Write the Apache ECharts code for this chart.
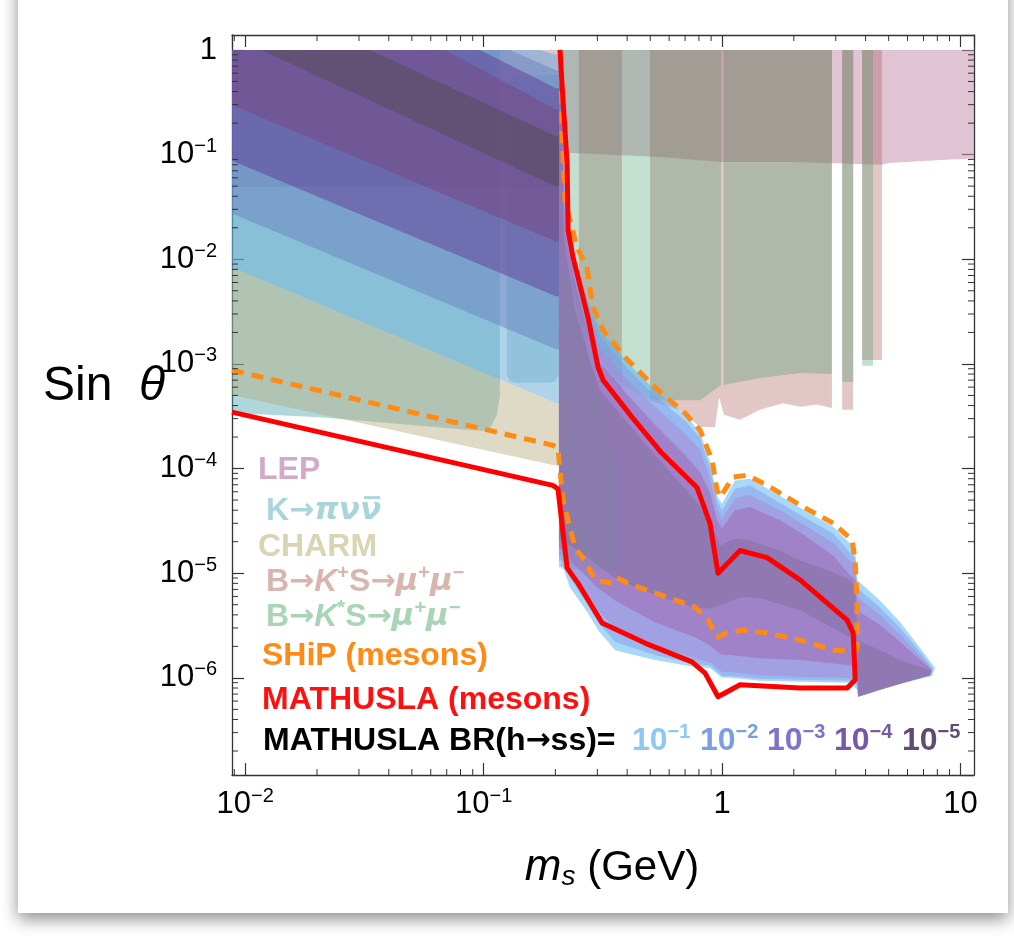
<!DOCTYPE html>
<html><head><meta charset="utf-8">
<script src="https://cdn.jsdelivr.net/npm/echarts@6/dist/echarts.min.js"></script>
<style>html,body{margin:0;padding:0;background:#ffffff;}#c{width:1014px;height:947px;}</style>
</head><body><div id="c"></div>
<script>
// ---------- axis ranges (GeV, sin theta) ----------
const xMin = 0.0088, xMax = 11.4;
const yMin = 1.18e-7, yMax = 1.39;
const minorMantissas = [2, 3, 4, 5, 6, 7, 8, 9];
const xDecades = [0.001, 0.01, 0.1, 1, 10];
const yDecades = [1e-8, 1e-7, 1e-6, 1e-5, 1e-4, 1e-3, 1e-2, 0.1, 1];

// ---------- excluded regions (polygons in [m_s, sin theta]) ----------
const lepRegion = [[0.0088,1],[11.4,1],[11.4,0.092],[9.0,0.09],[5.0,0.083],[4.7,0.08],[2.0,0.085],[1.0,0.085],[0.55,0.095],[0.213,0.105],[0.21,0.0495],[0.0088,0.0495]];
const kpinnRegionA = [[0.0088,1],[0.117,1],[0.117,5.0e-4],[0.1137,3.26e-4],[0.107,2.5e-4],[0.101,2.28e-4],[0.0876,2.34e-4],[0.0445,2.67e-4],[0.0206,3.1e-4],[0.0088,3.4e-4]];
const kpinnRegionB = [[0.125,0.45],[0.127,0.53],[0.132,0.577],[0.207,0.577],[0.207,8e-4],[0.2,6.8e-4],[0.19,6.6e-4],[0.135,6.6e-4],[0.128,7e-4],[0.125,8e-4]];
const kpinnRegionC = [[0.211,0.0075],[0.25,0.006],[0.271,0.00135],[0.363,1.0e-4],[0.363,1.06e-5],[0.211,1.1e-5]];
const charmRegion = [[0.0088,0.0084],[0.201,4.24e-4],[0.209,4.2e-4],[0.209,1.06e-4],[0.195,1.08e-4],[0.0088,5.06e-4]];
const bKplusRegions = [
  [[0.251,1],[0.380,1],[0.380,5.4e-4],[0.308,1.09e-3],[0.251,4.06e-3]],
  [[0.499,1],[2.89,1],[2.89,3.8e-4],[2.5,4.1e-4],[2.13,3.89e-4],[1.8,4.2e-4],[1.44,3.64e-4],[1.19,2.92e-4],[1.02,3.26e-4],[0.972,4.8e-4],[0.935,2.5e-4],[0.809,2.49e-4],[0.666,3.61e-4],[0.499,4.5e-4]],
  [[3.19,1],[3.55,1],[3.55,3.64e-4],[3.19,3.64e-4]],
  [[3.87,1],[4.69,1],[4.69,1.09e-3],[3.87,1.09e-3]]
];
const bKstarRegions = [
  [[0.213,1],[0.99,1],[0.99,6.3e-4],[0.809,4.5e-4],[0.666,4.5e-4],[0.499,4.6e-4],[0.380,6.3e-4],[0.308,1.09e-3],[0.254,2.62e-3],[0.213,0.0122]],
  [[1.015,1],[2.89,1],[2.89,8.0e-4],[2.13,8.2e-4],[1.44,7.35e-4],[1.015,6.3e-4]],
  [[3.19,1],[3.55,1],[3.55,6.7e-4],[3.19,6.7e-4]],
  [[3.87,1],[4.30,1],[4.30,9.6e-4],[3.87,9.6e-4]]
];

// ---------- MATHUSLA reach, BR(h->ss) = 1e-1 ... 1e-5 : light-mass part (m_s < 2 m_mu) ----------
const brLow1e1 = [[0.0088,1],[0.172,1],[0.201,0.9],[0.207,0.9],[0.207,4.24e-4],[0.201,4.24e-4],[0.0088,0.0084]];
const brLow1e2 = [[0.0088,1],[0.129,1],[0.201,0.64],[0.207,0.64],[0.207,0.00138],[0.201,0.00138],[0.0088,0.0273]];
const brLow1e3 = [[0.0088,1],[0.0965,1],[0.201,0.43],[0.207,0.43],[0.207,0.00443],[0.201,0.00443],[0.0088,0.0876]];
const brLow1e4 = [[0.0088,1],[0.0688,1],[0.201,0.27],[0.207,0.27],[0.207,0.0148],[0.201,0.0148],[0.0088,0.298]];
const brLow1e5 = [[0.0117,1],[0.0333,1],[0.201,0.15],[0.207,0.15],[0.207,0.0495],[0.201,0.0495]];
// ---------- heavy part (m_s > 2 m_mu) ----------
const brHigh1e1 = [[0.207,1],[0.211,1],[0.219,0.0364],[0.242,0.00936],[0.279,0.00364],[0.308,0.0021],[0.392,0.00109],[0.523,5.6e-4],[0.700,3.26e-4],[0.809,2.24e-4],[0.890,1.16e-4],[0.953,5.5e-5],[1.0,4.6e-5],[1.134,7.7e-5],[1.31,8.0e-5],[1.75,5.5e-5],[2.13,4.2e-5],[2.92,2.8e-5],[3.44,1.92e-5],[3.62,1.65e-5],[3.69,8.6e-6],[4.60,5.5e-6],[5.59,3.4e-6],[6.78,1.92e-6],[7.83,1.24e-6],[7.61,1.04e-6],[5.59,8.8e-7],[4.60,7.7e-7],[3.72,6.6e-7],[3.69,7.7e-7],[3.44,9.0e-7],[2.13,9.2e-7],[1.44,9.4e-7],[1.08,1.0e-6],[1.0,1.0e-6],[0.890,1.24e-6],[0.770,1.27e-6],[0.523,1.48e-6],[0.356,1.84e-6],[0.302,2.86e-6],[0.274,4.15e-6],[0.230,7.35e-6],[0.215,1.14e-5],[0.207,1.14e-5]];
const brHigh1e2 = [[0.207,1],[0.211,1],[0.222,0.0292],[0.244,0.00785],[0.279,0.00312],[0.308,0.00184],[0.392,9.6e-4],[0.523,4.95e-4],[0.700,2.86e-4],[0.809,1.96e-4],[0.890,1.0e-4],[0.953,4.95e-5],[1.0,4.0e-5],[1.134,6.4e-5],[1.31,6.9e-5],[1.75,4.7e-5],[2.13,3.6e-5],[2.92,2.4e-5],[3.44,1.58e-5],[3.62,1.38e-5],[3.69,7.2e-6],[4.60,4.7e-6],[5.59,3.0e-6],[6.78,1.76e-6],[7.61,1.24e-6],[7.46,1.06e-6],[5.59,8.8e-7],[4.60,7.7e-7],[3.72,6.6e-7],[3.69,8.4e-7],[3.44,9.4e-7],[2.13,9.6e-7],[1.44,9.8e-7],[1.08,1.04e-6],[1.0,1.04e-6],[0.890,1.32e-6],[0.770,1.35e-6],[0.523,1.65e-6],[0.356,2.2e-6],[0.302,3.4e-6],[0.274,4.95e-6],[0.230,9.0e-6],[0.215,1.32e-5],[0.207,1.32e-5]];
const brHigh1e3 = [[0.207,1],[0.211,1],[0.222,0.0234],[0.249,0.0063],[0.279,0.00262],[0.308,0.00141],[0.392,7.4e-4],[0.523,3.89e-4],[0.700,2.15e-4],[0.809,1.51e-4],[0.890,8.0e-5],[0.953,4.15e-5],[1.0,3.3e-5],[1.134,5.2e-5],[1.31,5.6e-5],[1.75,4.0e-5],[2.13,3.05e-5],[2.92,1.96e-5],[3.44,1.32e-5],[3.62,1.16e-5],[3.69,5.9e-6],[4.60,4.0e-6],[5.59,2.56e-6],[6.78,1.61e-6],[7.61,1.21e-6],[7.46,1.06e-6],[5.59,8.8e-7],[4.60,7.7e-7],[3.72,6.6e-7],[3.69,9.2e-7],[3.44,1.0e-6],[2.13,1.02e-6],[1.44,1.06e-6],[1.08,1.14e-6],[1.0,1.14e-6],[0.890,1.41e-6],[0.770,1.54e-6],[0.523,2.05e-6],[0.356,3.0e-6],[0.302,4.4e-6],[0.274,6.2e-6],[0.230,1.06e-5],[0.215,1.48e-5],[0.207,1.48e-5]];
const brHigh1e4 = [[0.207,1],[0.211,1],[0.219,0.0188],[0.249,0.00453],[0.279,0.00188],[0.308,0.00104],[0.392,5.4e-4],[0.523,2.62e-4],[0.700,1.35e-4],[0.809,9.2e-5],[0.890,5.9e-5],[0.953,3.2e-5],[1.0,2.67e-5],[1.134,4.0e-5],[1.31,4.3e-5],[1.75,3.2e-5],[2.13,2.45e-5],[2.92,1.48e-5],[3.44,9.6e-6],[3.62,8.6e-6],[3.69,4.4e-6],[4.60,3.2e-6],[5.59,2.2e-6],[6.78,1.48e-6],[7.61,1.19e-6],[7.46,1.06e-6],[5.59,8.8e-7],[4.60,7.7e-7],[3.72,6.6e-7],[3.69,1.24e-6],[3.44,1.32e-6],[2.13,1.48e-6],[1.44,1.54e-6],[1.08,1.65e-6],[1.0,1.65e-6],[0.890,2.05e-6],[0.770,2.45e-6],[0.523,3.4e-6],[0.356,5.5e-6],[0.302,7.2e-6],[0.274,9.0e-6],[0.230,1.32e-5],[0.215,1.72e-5],[0.207,1.72e-5]];
const brHigh1e5 = [[0.207,1],[0.211,1],[0.217,0.0151],[0.242,0.00326],[0.279,0.00109],[0.308,5.6e-4],[0.392,2.92e-4],[0.523,1.35e-4],[0.700,6.4e-5],[0.809,4.4e-5],[0.908,2.86e-5],[0.981,1.84e-5],[1.134,2.15e-5],[1.31,2.05e-5],[1.75,1.65e-5],[2.13,1.32e-5],[2.92,1.02e-5],[3.44,8.6e-6],[3.62,7.7e-6],[3.69,2.3e-6],[4.60,1.84e-6],[5.59,1.48e-6],[6.78,1.27e-6],[7.61,1.16e-6],[7.46,1.06e-6],[5.59,8.8e-7],[4.60,7.7e-7],[3.72,6.6e-7],[3.69,2.05e-6],[3.44,2.45e-6],[2.13,4.4e-6],[1.44,5.8e-6],[1.19,5.9e-6],[1.0,4.95e-6],[0.890,4.6e-6],[0.770,4.7e-6],[0.523,6.2e-6],[0.356,9.0e-6],[0.302,1.19e-5],[0.274,1.41e-5],[0.230,1.84e-5],[0.215,2.05e-5],[0.207,2.05e-5]];

// ---------- sensitivity curves ----------
const shipMesons = [[0.0088,8.71e-4],[0.195,1.67e-4],[0.205,1.57e-4],[0.215,5.0e-5],[0.242,1.74e-5],[0.266,1.33e-5],[0.293,8.6e-6],[0.346,8.0e-6],[0.363,9.0e-6],[0.403,8.0e-6],[0.770,4.75e-6],[0.873,3.56e-6],[0.953,2.45e-6],[1.049,2.68e-6],[1.225,2.86e-6],[1.545,2.68e-6],[2.125,2.30e-6],[2.923,1.84e-6],[3.686,1.84e-6],[3.686,5.53e-6],[3.615,1.33e-5],[3.512,2.07e-5],[2.923,3.01e-5],[2.125,4.47e-5],[1.545,6.94e-5],[1.273,8.65e-5],[1.112,8.27e-5],[0.981,5.33e-5],[0.953,6.22e-5],[0.908,1.20e-4],[0.809,2.33e-4],[0.700,3.38e-4],[0.523,5.99e-4],[0.392,1.16e-3],[0.317,2.10e-3],[0.2875,3.48e-3],[0.2714,8.39e-3],[0.2463,0.01302],[0.2194,0.0366],[0.2131,0.1706],[0.2111,1]];
const mathuslaMesons = [[0.0088,3.46e-4],[0.195,6.9e-5],[0.205,6.4e-5],[0.224,1.12e-5],[0.249,8.0e-6],[0.314,3.34e-6],[0.475,2.15e-6],[0.748,1.42e-6],[0.849,1.11e-6],[0.962,6.6e-7],[1.19,8.6e-7],[2.13,8.0e-7],[3.35,8.0e-7],[3.62,9.6e-7],[3.55,2.68e-6],[3.35,3.56e-6],[2.13,8.6e-6],[1.545,1.41e-5],[1.19,1.65e-5],[0.962,1.0e-5],[0.890,3.0e-5],[0.785,6.6e-5],[0.56,1.40e-4],[0.419,3.1e-4],[0.317,7.0e-4],[0.302,9.3e-4],[0.274,2.79e-3],[0.237,1.05e-2],[0.226,1.89e-2],[0.224,8.3e-2],[0.215,0.35],[0.209,1]];

// ---------- legend ----------
const brLabels = ['−1','−2','−3','−4','−5'];
const brColors = ['#8cc8f2','#7a9ee6','#7d72d0','#7758a6','#5f4b76'];

const FONT = "'Liberation Sans', Arial, Helvetica, sans-serif";
const NARROW = "'Liberation Sans Narrow', 'Arial Narrow', 'Liberation Sans', sans-serif";
const ARROW = "'DejaVu Sans', sans-serif";

function region(points, fill, z) {
  return {
    type: 'custom', coordinateSystem: 'cartesian2d', clip: true, silent: true, z: z || 2,
    data: [[1, 1]],
    renderItem: function (params, api) {
      return { type: 'polygon', shape: { points: points.map(function (p) { return api.coord(p); }) }, style: { fill: fill, stroke: null } };
    }
  };
}

const series = [];
series.push(region(lepRegion, 'rgba(198,148,176,0.55)', 2));
series.push(region(kpinnRegionA, 'rgba(79,168,177,0.45)', 2));
series.push(region(kpinnRegionB, 'rgba(79,168,177,0.35)', 2));
series.push(region(charmRegion, 'rgba(178,168,118,0.42)', 2));
bKplusRegions.forEach(function (r) { series.push(region(r, 'rgba(166,86,86,0.33)', 2)); });
bKstarRegions.forEach(function (r) { series.push(region(r, 'rgba(58,152,99,0.30)', 2)); });
series.push(region(brLow1e1, 'rgba(96,168,212,0.5)', 3));
series.push(region(brLow1e2, 'rgba(108,128,192,0.5)', 3));
series.push(region(brLow1e3, 'rgba(98,60,148,0.5)', 3));
series.push(region(brLow1e4, 'rgba(118,70,127,0.5)', 3));
series.push(region(brLow1e5, 'rgba(81,76,84,0.5)', 3));
series.push(region(brHigh1e1, 'rgba(81,177,241,0.5)', 3));
series.push(region(brHigh1e2, 'rgba(136,152,232,0.5)', 3));
series.push(region(brHigh1e3, 'rgba(168,136,214,0.5)', 3));
series.push(region(brHigh1e4, 'rgba(160,100,176,0.5)', 3));
series.push(region(brHigh1e5, 'rgba(124,110,150,0.45)', 3));
series.push(region(kpinnRegionC, 'rgba(110,140,150,0.2)', 3));
series.push({ type: 'line', data: shipMesons, symbol: 'none', clip: true, silent: true, z: 5,
  lineStyle: { color: '#ff8a14', width: 5, type: [12, 8], cap: 'butt' } });
series.push({ type: 'line', data: mathuslaMesons, symbol: 'none', clip: true, silent: true, z: 6,
  lineStyle: { color: '#ff0000', width: 5, join: 'round' } });
// minor (log) ticks on the frame
series.push({
  type: 'custom', coordinateSystem: 'cartesian2d', clip: false, silent: true, z: 8, data: [[1, 1]],
  renderItem: function (params, api) {
    const cs = params.coordSys; const ch = []; const L = 6;
    const st = { stroke: '#333', lineWidth: 1 };
    xDecades.forEach(function (d) { minorMantissas.forEach(function (m) {
      const v = m * d; if (v <= xMin || v >= xMax) return;
      const px = api.coord([v, 1])[0];
      ch.push({ type: 'line', shape: { x1: px, y1: cs.y + cs.height, x2: px, y2: cs.y + cs.height - L }, style: st });
      ch.push({ type: 'line', shape: { x1: px, y1: cs.y, x2: px, y2: cs.y + L }, style: st });
    }); });
    yDecades.forEach(function (d) { minorMantissas.forEach(function (m) {
      const v = m * d; if (v <= yMin || v >= yMax) return;
      const py = api.coord([1, v])[1];
      ch.push({ type: 'line', shape: { x1: cs.x, y1: py, x2: cs.x + L, y2: py }, style: st });
      ch.push({ type: 'line', shape: { x1: cs.x + cs.width, y1: py, x2: cs.x + cs.width - L, y2: py }, style: st });
    }); });
    return { type: 'group', children: ch };
  }
});

function tickLabel(v) {
  const e = Math.round(Math.log10(v));
  if (e === 0) return '{b|1}';
  if (e === 1) return '{b|10}';
  return '{b|10}{s|−' + (-e) + '}';
}
const labelRich = {
  b: { fontSize: 31, fontFamily: NARROW, color: '#000', lineHeight: 36 },
  s: { fontSize: 20, fontFamily: NARROW, color: '#000', lineHeight: 18, verticalAlign: 'top' }
};
const frameLine = { show: true, lineStyle: { color: '#333', width: 1.3 } };
const majorTick = { show: true, inside: true, length: 12, lineStyle: { color: '#333', width: 1.2 } };

function xAx(pos, labels) {
  return { type: 'log', logBase: 10, min: xMin, max: xMax, position: pos, axisLine: frameLine, axisTick: majorTick,
    splitLine: { show: false },
    axisLabel: { show: labels, margin: 11, showMinLabel: false, showMaxLabel: false, formatter: tickLabel, rich: labelRich } };
}
function yAx(pos, labels) {
  return { type: 'log', logBase: 10, min: yMin, max: yMax, position: pos, axisLine: frameLine, axisTick: majorTick,
    splitLine: { show: false },
    axisLabel: { show: labels, margin: 15, showMinLabel: false, showMaxLabel: false, formatter: tickLabel, rich: labelRich } };
}

const legRich = function (color) {
  return {
    n: { fontSize: 32, fontWeight: 'bold', fontFamily: FONT, color: color, lineHeight: 38 },
    a: { fontSize: 30, fontWeight: 'bold', fontFamily: ARROW, color: color, lineHeight: 38 },
    i: { fontSize: 32, fontWeight: 'bold', fontStyle: 'italic', fontFamily: FONT, color: color, lineHeight: 38 },
    g: { fontSize: 31, fontWeight: 'bold', fontStyle: 'italic', fontFamily: ARROW, color: color, lineHeight: 38 },
    s: { fontSize: 20, fontWeight: 'bold', fontFamily: FONT, color: color, lineHeight: 20, verticalAlign: 'top' }
  };
};
function legText(x, y, text, color) {
  return { type: 'text', x: x, y: y, z: 50, style: { text: text, rich: legRich(color), verticalAlign: 'middle', fill: color, font: 'bold 32px ' + FONT } };
}

const graphic = [
  { type: 'rect', z: -100, shape: { x: 18, y: -30, width: 990, height: 943 },
    style: { fill: '#ffffff', shadowBlur: 16, shadowColor: 'rgba(0,0,0,0.45)', shadowOffsetY: 6 } },
  legText(258, 470, '{n|LEP}', '#d3a9c8'),
  legText(266, 511, '{n|K}{a|→}{g|πνν̅}', '#a9d5da'),
  legText(258, 547, '{n|CHARM}', '#d9d4b4'),
  legText(266, 582, '{n|B}{a|→}{i|K}{s|+}{n|S}{a|→}{g|μ}{s|+}{g|μ}{s|−}', '#d8b5ae'),
  legText(266, 617, '{n|B}{a|→}{i|K}{s|*}{n|S}{a|→}{g|μ}{s|+}{g|μ}{s|−}', '#a9d5b6'),
  legText(262, 656, '{n|SHiP (mesons)}', '#ff8a14'),
  legText(262, 700, '{n|MATHUSLA (mesons)}', '#ff1010'),
  legText(263, 741, '{n|MATHUSLA BR(h}{a|→}{n|ss)=}', '#000000'),
  { type: 'text', x: 104, y: 387, z: 50, style: { text: '{n|Sin  }{i|θ}', textAlign: 'center', verticalAlign: 'middle',
      rich: { n: { fontSize: 48, fontFamily: FONT, color: '#000' }, i: { fontSize: 48, fontStyle: 'italic', fontFamily: FONT, color: '#000' } } } },
  { type: 'text', x: 612, y: 868, z: 50, style: { text: '{i|m}{u|s}{n| (GeV)}', textAlign: 'center', verticalAlign: 'middle',
      rich: { n: { fontSize: 42, fontFamily: NARROW, color: '#000', lineHeight: 46 }, i: { fontSize: 44, fontStyle: 'italic', fontFamily: FONT, color: '#000', lineHeight: 46 },
              u: { fontSize: 28, fontStyle: 'italic', fontFamily: FONT, color: '#000', lineHeight: 26, verticalAlign: 'bottom' } } } }
];
const brX = [632, 700, 767, 834, 902];
brLabels.forEach(function (t, k) {
  graphic.push(legText(brX[k], 741, '{n|10}{s|' + t + '}', brColors[k]));
});

const chart = echarts.init(document.getElementById('c'));
chart.setOption({
  animation: false,
  backgroundColor: '#ffffff',
  grid: { left: 232, right: 40, top: 35, bottom: 172 },
  xAxis: [xAx('bottom', true), xAx('top', false)],
  yAxis: [yAx('left', true), yAx('right', false)],
  series: series,
  graphic: graphic
});
</script></body></html>
